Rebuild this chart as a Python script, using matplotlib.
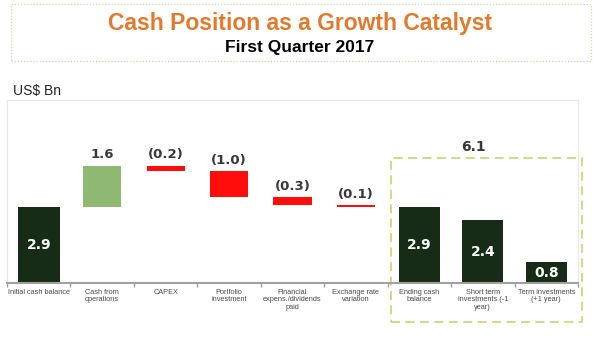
import numpy as np
import matplotlib
matplotlib.use("Agg")
from matplotlib import pyplot as plt
from matplotlib.patches import Rectangle

# Q1 2017 cash bridge, US$ Bn
categories = ["Initial cash balance", "Cash from\noperations", "CAPEX",
              "Portfolio\ninvestment", "Financial\nexpens./dividends\npaid",
              "Exchange rate\nvariation", "Ending cash\nbalance",
              "Short term\ninvestments (-1\nyear)", "Term investments\n(+1 year)"]
initial_cash = 2.9
changes = [1.6, -0.2, -1.0, -0.3, -0.1]
ending = [2.9, 2.4, 0.8]

DARK = "#172c17"
LIGHT = "#8fb872"
RED = "#ff0d0d"
LABEL = "#383838"
FONT = ["Liberation Sans", "DejaVu Sans"]

W, H = 600, 345
fig = plt.figure(figsize=(6, 3.45), dpi=100)

def fx(px):
    return px / W

def fy(py):
    return 1 - py / H

# plot area: x 7..578 px, baseline at y=283 px, top at y=100 px
ax = fig.add_axes([fx(7), fy(283), fx(578) - fx(7), fy(100) - fy(283)])

x = np.arange(len(categories))

# initial balance
ax.bar(0, initial_cash, width=0.66, color=DARK)
ax.text(0, initial_cash / 2, f"{initial_cash:.1f}", color="white", ha="center",
        va="center", fontsize=10, fontweight="bold")

# floating steps
level = initial_cash
for i, d in enumerate(changes, start=1):
    bottom = level if d > 0 else level + d
    ax.bar(i, abs(d), bottom=bottom, width=0.6, color=LIGHT if d > 0 else RED)
    txt = f"{d:.1f}" if d > 0 else f"({abs(d):.1f})"
    ax.annotate(txt, (i, bottom + abs(d)), xytext=(0, 3), textcoords="offset points",
                ha="center", va="bottom", fontsize=9.5, fontweight="bold", color=LABEL)
    level += d

# ending position breakdown
for j, v in enumerate(ending):
    i = 6 + j
    ax.bar(i, v, width=0.65, color=DARK)
    ax.text(i, v / 2, f"{v:.1f}", color="white", ha="center", va="center",
            fontsize=10, fontweight="bold")

total = sum(ending)
ax.text(6.85, 5.21, f"{total:.1f}", ha="center", va="center", fontsize=10,
        fontweight="bold", color=LABEL)

# dashed box around the ending position
box = Rectangle((5.55, -1.49), 3.02, 6.28, fill=False, edgecolor="#cfd67a",
                linewidth=1.3, linestyle=(0, (5, 3)), clip_on=False)
ax.add_patch(box)

ax.set_xlim(-0.5, 8.5)
ax.set_ylim(0, 7.01)
ax.set_yticks([])
ax.set_xticks(x)
ax.set_xticklabels(categories, fontsize=5.3, color="#4a4a4a", family=FONT,
                   linespacing=1.15)
ax.tick_params(axis="x", length=0, pad=4)
ax.set_xticks(np.arange(len(categories) + 1) - 0.5, minor=True)
ax.tick_params(axis="x", which="minor", length=3, color="#a0a0a0", width=1)
for side in ["top", "left", "right"]:
    ax.spines[side].set_color("#e8e8e8")
    ax.spines[side].set_linewidth(0.8)
ax.spines["bottom"].set_color("#a0a0a0")
ax.spines["bottom"].set_linewidth(1.5)

# heading
fig.add_artist(Rectangle((fx(11), fy(61)), fx(591) - fx(11), fy(4) - fy(61),
                         transform=fig.transFigure, fill=False, edgecolor="#d6d9a8",
                         linewidth=0.9, linestyle=(0, (1, 1.5))))
fig.text(0.5, fy(30), "Cash Position as a Growth Catalyst", ha="center",
         va="baseline", fontsize=16.5, fontweight="bold", color="#e07b2e", family=FONT)
fig.text(0.5, fy(52), "First Quarter 2017", ha="center", va="baseline",
         fontsize=12.5, fontweight="bold", color="black", family=FONT)
fig.text(fx(13), fy(95), "US$ Bn", ha="left", va="baseline", fontsize=10,
         color="#222222", family=FONT)

fig.savefig("out.png", dpi=100)
